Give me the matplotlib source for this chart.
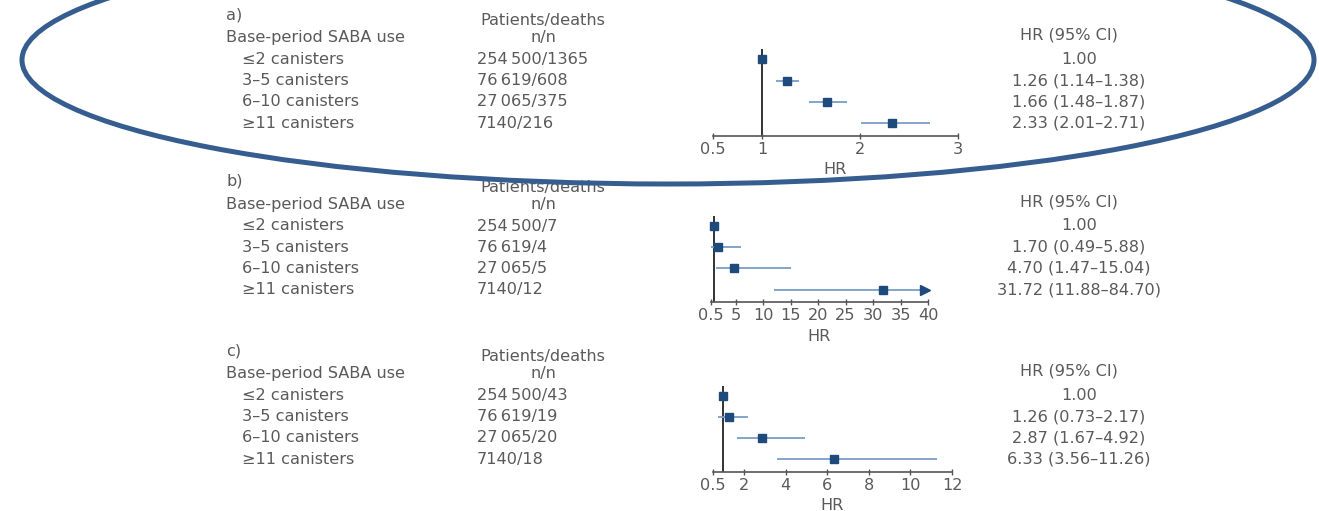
import numpy as np
import matplotlib
matplotlib.use("Agg")
import matplotlib.pyplot as plt
from matplotlib.patches import Ellipse

W, H = 1319, 511

# data
categories = ["≤2 canisters", "3–5 canisters", "6–10 canisters", "≥11 canisters"]
patients = ["254\u2009500", "76\u2009619", "27\u2009065", "7140"]

deaths_a = [1365, 608, 375, 216]
hr_a = [1.00, 1.26, 1.66, 2.33]
lo_a = [1.00, 1.14, 1.48, 2.01]
hi_a = [1.00, 1.38, 1.87, 2.71]

deaths_b = [7, 4, 5, 12]
hr_b = [1.00, 1.70, 4.70, 31.72]
lo_b = [1.00, 0.49, 1.47, 11.88]
hi_b = [1.00, 5.88, 15.04, 84.70]

deaths_c = [43, 19, 20, 18]
hr_c = [1.00, 1.26, 2.87, 6.33]
lo_c = [1.00, 0.73, 1.67, 3.56]
hi_c = [1.00, 2.17, 4.92, 11.26]

ticks_a = [0.5, 1, 2, 3]
ticks_b = [0.5, 5, 10, 15, 20, 25, 30, 35, 40]
ticks_c = [0.5, 2, 4, 6, 8, 10, 12]

TXT = "#5a5a5a"
MARK = "#1f4a7c"
CI = "#7a9ec8"
FS = 11.6


def fx(x):
    return x / W


def fy(y):
    return 1 - y / H


fig = plt.figure(figsize=(W / 100, H / 100), dpi=100)


def panel(tag, row0, deaths, hr, lo, hi, ticks, x0, x1):
    step = 21.2
    rows = [row0 + i * step for i in range(4)]
    # left text columns
    fig.text(fx(226), fy(row0 - 45), tag, fontsize=FS, color=TXT, va="center")
    fig.text(fx(226), fy(row0 - 22), "Base-period SABA use", fontsize=FS, color=TXT, va="center")
    fig.text(fx(543), fy(row0 - 39), "Patients/deaths", fontsize=FS, color=TXT, va="center", ha="center")
    fig.text(fx(543), fy(row0 - 22), "n/n", fontsize=FS, color=TXT, va="center", ha="center")
    fig.text(fx(1069), fy(row0 - 24), "HR (95% CI)", fontsize=FS, color=TXT, va="center", ha="center")
    for i, y in enumerate(rows):
        fig.text(fx(242), fy(y), categories[i], fontsize=FS, color=TXT, va="center")
        fig.text(fx(477), fy(y), f"{patients[i]}/{deaths[i]}", fontsize=FS, color=TXT, va="center")
        if i == 0:
            s = f"{hr[i]:.2f}"
        else:
            s = f"{hr[i]:.2f} ({lo[i]:.2f}–{hi[i]:.2f})"
        fig.text(fx(1079), fy(y), s, fontsize=FS, color=TXT, va="center", ha="center")

    # forest axes
    top = row0 - 10
    bottom = row0 + 3 * step + 12.5
    ax = fig.add_axes([fx(x0), fy(bottom), fx(x1 - x0), (bottom - top) / H])
    ax.set_xlim(ticks[0], ticks[-1])
    ax.set_ylim(3 + 12.5 / step, -10 / step)
    ax.axvline(1, color="#222222", lw=1.3, zorder=1)
    xmax = ticks[-1]
    for i in range(4):
        if i == 0:
            continue
        end = min(hi[i], xmax)
        ax.hlines(i, lo[i], end, color=CI, lw=1.3, zorder=2)
        if hi[i] > xmax:
            ax.plot([xmax - 0.6], [i], ">", ms=7, color=MARK, clip_on=False, zorder=3)
    ax.plot(hr, range(4), "s", ms=6, color=MARK, zorder=4, clip_on=False)
    for s in ["top", "left", "right"]:
        ax.spines[s].set_visible(False)
    ax.spines["bottom"].set_color("#555555")
    ax.spines["bottom"].set_linewidth(1.2)
    ax.set_yticks([])
    ax.set_xticks(ticks)
    ax.set_xticklabels([f"{t:g}" for t in ticks])
    ax.tick_params(axis="x", direction="inout", length=5, width=1, color="#555555",
                   labelcolor=TXT, labelsize=FS, pad=2)
    ax.set_xlabel("HR", fontsize=FS, color=TXT, labelpad=4)
    ax.patch.set_alpha(0)
    return ax


panel("a)", 59.5, deaths_a, hr_a, lo_a, hi_a, ticks_a, 713, 958)
panel("b)", 226, deaths_b, hr_b, lo_b, hi_b, ticks_b, 711, 928)
panel("c)", 395.5, deaths_c, hr_c, lo_c, hi_c, ticks_c, 713, 952)

# highlight ring round panel a
ring = Ellipse((fx(668), fy(60)), 1292 / W, 248 / H, transform=fig.transFigure,
               fill=False, edgecolor="#365d8f", lw=3.6, zorder=10)
fig.patches.append(ring)

fig.savefig("out.png", dpi=100)
